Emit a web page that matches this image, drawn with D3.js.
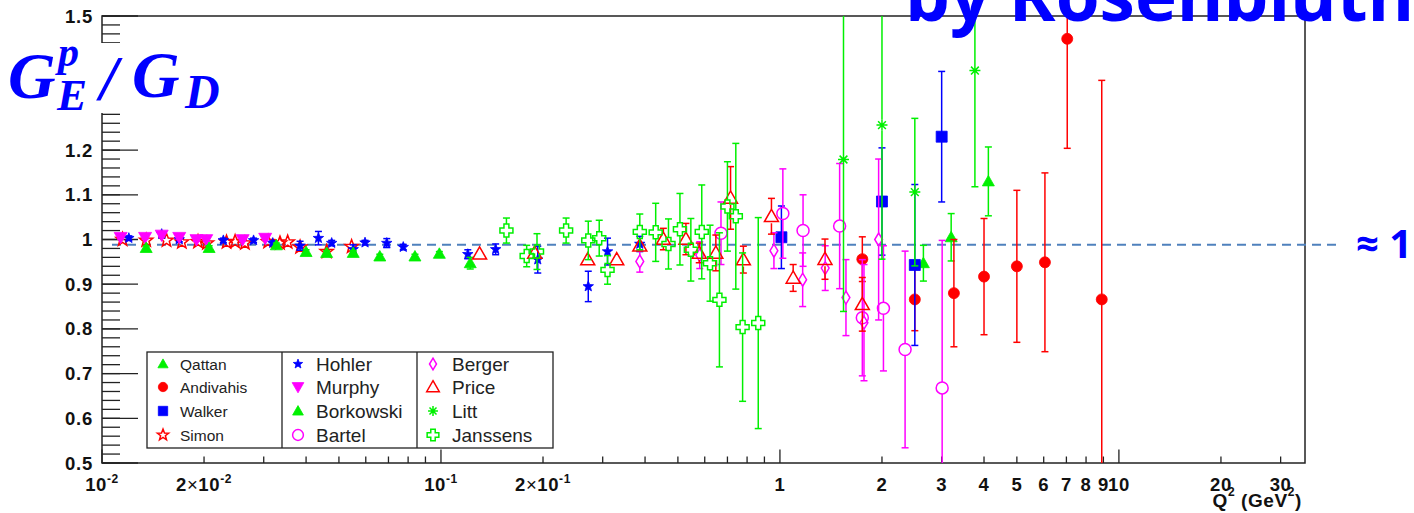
<!DOCTYPE html>
<html>
<head>
<meta charset="utf-8">
<script src="https://cdn.jsdelivr.net/npm/d3@7"></script>
<style>
  body { margin: 0; background: #fff; }
  svg { display: block; }
</style>
</head>
<body>
<div id="chart"></div>
<script>
/////////////
// Data    //
/////////////

// each point: [Q2 (GeV^2), GEp/GD, error]
var qattan = [[2.65,0.947,0.04],[3.2,1.005,0.053],[4.12,1.13,0.077]];
var andivahis = [[1.75,0.956,0.05],[2.5,0.866,0.07],[3.26,0.88,0.12],[4.0,0.917,0.13],[5.0,0.94,0.17],[6.05,0.949,0.2],[7.04,1.449,0.245],[8.9,0.866,0.49]];
var walker = [[1.01,1.005,0.07],[2.0,1.085,0.12],[2.5,0.943,0.18],[3.0,1.23,0.146]];
var simon = [[0.0115,1.0,0.005],[0.0135,0.998,0.005],[0.0155,0.998,0.005],[0.0172,0.994,0.005],[0.0192,0.995,0.005],[0.0204,0.992,0.005],[0.0233,0.994,0.005],[0.0247,0.995,0.005],[0.0264,0.992,0.005],[0.0309,0.995,0.005],[0.0335,0.992,0.005],[0.0353,0.994,0.005],[0.0384,0.983,0.006],[0.046,0.973,0.006],[0.0545,0.984,0.006]];
var hohler = [[0.012,1.003,0.005],[0.015,1.012,0.005],[0.0169,1.0,0.005],[0.0228,0.998,0.005],[0.028,0.998,0.005],[0.0319,0.992,0.005],[0.0384,0.986,0.01],[0.0435,1.003,0.015],[0.0476,0.992,0.006],[0.0551,0.978,0.01],[0.0597,0.993,0.005],[0.0692,0.992,0.01],[0.0774,0.983,0.006],[0.12,0.967,0.01],[0.145,0.978,0.012],[0.193,0.955,0.03],[0.272,0.895,0.034],[0.31,0.973,0.03],[0.386,0.99,0.017]];
var murphy = [[0.01135,1.005,0.004],[0.0134,1.005,0.004],[0.015,1.01,0.004],[0.0169,1.005,0.004],[0.019,1.0,0.004],[0.0203,1.0,0.004],[0.026,1.0,0.004],[0.0303,1.003,0.004]];
var borkowski = [[0.0135,0.981,0.005],[0.0207,0.981,0.005],[0.0327,0.987,0.005],[0.04,0.972,0.005],[0.046,0.97,0.005],[0.0551,0.97,0.005],[0.066,0.962,0.005],[0.0838,0.962,0.005],[0.0989,0.968,0.005],[0.122,0.947,0.013]];
var bartel = [[0.67,1.014,0.07],[1.02,1.058,0.1],[1.17,1.02,0.08],[1.5,1.03,0.14],[1.75,0.825,0.13],[2.02,0.846,0.14],[2.34,0.754,0.22],[3.01,0.668,0.33]];
var berger = [[0.386,0.951,0.024],[0.58,0.965,0.03],[0.96,0.975,0.04],[1.167,0.91,0.06],[1.36,0.936,0.05],[1.566,0.87,0.085],[1.77,0.814,0.13],[1.955,1.0,0.18]];
var price = [[0.13,0.968,0.006],[0.189,0.97,0.01],[0.271,0.955,0.012],[0.33,0.955,0.01],[0.386,0.986,0.017],[0.453,1.001,0.024],[0.528,1.001,0.035],[0.578,0.97,0.022],[0.647,0.97,0.04],[0.715,1.093,0.07],[0.78,0.955,0.03],[0.944,1.052,0.04],[1.094,0.914,0.03],[1.358,0.956,0.045],[1.75,0.855,0.06]];
var litt = [[1.54,1.179,0.34],[2.0,1.256,0.3],[2.5,1.106,0.165],[3.76,1.378,0.26]];
var janssens = [[0.156,1.02,0.028],[0.179,0.963,0.024],[0.192,0.973,0.04],[0.234,1.02,0.028],[0.272,0.998,0.043],[0.293,1.003,0.04],[0.31,0.932,0.032],[0.386,1.017,0.04],[0.43,1.016,0.065],[0.469,0.99,0.056],[0.507,1.023,0.08],[0.546,0.977,0.07],[0.588,1.017,0.105],[0.622,0.947,0.085],[0.663,0.865,0.15],[0.70,1.074,0.1],[0.741,1.052,0.163],[0.776,0.804,0.166],[0.863,0.813,0.236]];

// axis ticks and labels
var xLabelValues = [0.01,0.02,0.1,0.2,1,2,3,4,5,6,7,8,9,10,20,30];
var yMajor = [0.5,0.6,0.7,0.8,0.9,1.0,1.1,1.2,1.3,1.4,1.5];
var refLine = 0.988;

///////////////
// Setup     //
///////////////

var width = 1414, height = 513;
var GREEN = "#00f000", RED = "#ff0000", BLUE = "#0000ff", MAG = "#ff00ff";

var series = [
	{name:"Qattan",    data:qattan,    color:GREEN, shape:"triUp",   fill:true,  r:6},
	{name:"Andivahis", data:andivahis, color:RED,   shape:"circle",  fill:true,  r:5.5},
	{name:"Walker",    data:walker,    color:BLUE,  shape:"square",  fill:true,  r:5.5},
	{name:"Simon",     data:simon,     color:RED,   shape:"star",    fill:false, r:7},
	{name:"Hohler",    data:hohler,    color:BLUE,  shape:"star",    fill:true,  r:5.5},
	{name:"Murphy",    data:murphy,    color:MAG,   shape:"triDown", fill:true,  r:6.5},
	{name:"Borkowski", data:borkowski, color:GREEN, shape:"triUp",   fill:true,  r:6},
	{name:"Bartel",    data:bartel,    color:MAG,   shape:"circle",  fill:false, r:6},
	{name:"Berger",    data:berger,    color:MAG,   shape:"diamond", fill:false, r:6.5},
	{name:"Price",     data:price,     color:RED,   shape:"triUp",   fill:false, r:7},
	{name:"Litt",      data:litt,      color:GREEN, shape:"aster",   fill:false, r:5.5},
	{name:"Janssens",  data:janssens,  color:GREEN, shape:"cross",   fill:false, r:6.5}
];

var svg = d3.select("#chart").append("svg")
	.attr("width", width).attr("height", height);

var x = d3.scaleLog().domain([0.01, 35.4]).range([102, 1305]);
var y = d3.scaleLinear().domain([0.5, 1.5]).range([463, 16]);

var L = 102, R = 1305, T = 16, B = 463;

// marker path
function markerPath(shape, r){
	var p = d3.path();
	if (shape == "triUp"){
		p.moveTo(0,-r); p.lineTo(r,r*0.75); p.lineTo(-r,r*0.75); p.closePath();
	} else if (shape == "triDown"){
		p.moveTo(0,r); p.lineTo(r,-r*0.75); p.lineTo(-r,-r*0.75); p.closePath();
	} else if (shape == "square"){
		p.rect(-r,-r,2*r,2*r);
	} else if (shape == "circle"){
		p.arc(0,0,r,0,2*Math.PI); p.closePath();
	} else if (shape == "diamond"){
		p.moveTo(0,-r); p.lineTo(r*0.6,0); p.lineTo(0,r); p.lineTo(-r*0.6,0); p.closePath();
	} else if (shape == "star"){
		for (var i=0;i<10;i++){
			var a = -Math.PI/2 + i*Math.PI/5, rr = (i%2==0) ? r : r*0.42;
			if (i==0) p.moveTo(rr*Math.cos(a), rr*Math.sin(a)); else p.lineTo(rr*Math.cos(a), rr*Math.sin(a));
		}
		p.closePath();
	} else if (shape == "cross"){
		var w = r*0.38;
		p.moveTo(-w,-r); p.lineTo(w,-r); p.lineTo(w,-w); p.lineTo(r,-w); p.lineTo(r,w); p.lineTo(w,w);
		p.lineTo(w,r); p.lineTo(-w,r); p.lineTo(-w,w); p.lineTo(-r,w); p.lineTo(-r,-w); p.lineTo(-w,-w); p.closePath();
	} else if (shape == "aster"){
		for (var k=0;k<4;k++){
			var b = k*Math.PI/4;
			p.moveTo(-r*Math.cos(b), -r*Math.sin(b)); p.lineTo(r*Math.cos(b), r*Math.sin(b));
		}
	}
	return p.toString();
}

function drawMarker(g, s, r){
	g.append("path")
		.attr("d", markerPath(s.shape, r))
		.attr("fill", s.fill ? s.color : "none")
		.attr("stroke", s.color)
		.attr("stroke-width", s.fill ? 0.8 : 1.5)
		.attr("stroke-linejoin", "miter");
}

////////////////
// Axes/frame //
////////////////

svg.append("clipPath").attr("id","plotclip")
	.append("rect").attr("x",L).attr("y",T).attr("width",R-L).attr("height",B-T);

// y ticks
var yMinor = d3.range(0.5, 1.5001, 0.02);
svg.append("g").selectAll("line").data(yMinor).enter().append("line")
	.attr("x1", L).attr("x2", L+18)
	.attr("y1", function(d){ return y(d); }).attr("y2", function(d){ return y(d); })
	.attr("stroke","#222").attr("stroke-width",1.3);
svg.append("g").selectAll("line").data(yMajor).enter().append("line")
	.attr("x1", L).attr("x2", L+36)
	.attr("y1", function(d){ return y(d); }).attr("y2", function(d){ return y(d); })
	.attr("stroke","#222").attr("stroke-width",1.3);
svg.append("g").selectAll("text").data(yMajor).enter().append("text")
	.text(function(d){ return d3.format("~g")(d); })
	.attr("x", 93).attr("y", function(d){ return y(d)+6.5; })
	.attr("text-anchor","end")
	.attr("font-family","Liberation Sans, Arial, sans-serif")
	.attr("font-weight","bold").attr("font-size","18.5px").attr("letter-spacing","0.8px")
	.attr("fill","#111");

// x ticks
var xMinor = [], xMajorT = [];
[0.01,0.1,1,10].forEach(function(dec){
	xMajorT.push(dec);
	for (var m=2;m<=9;m++){ if (dec*m <= 35.4) xMinor.push(dec*m); }
});
svg.append("g").selectAll("line").data(xMinor).enter().append("line")
	.attr("x1", function(d){ return x(d); }).attr("x2", function(d){ return x(d); })
	.attr("y1", B).attr("y2", B-6.5)
	.attr("stroke","#222").attr("stroke-width",1.3);
svg.append("g").selectAll("line").data(xMajorT).enter().append("line")
	.attr("x1", function(d){ return x(d); }).attr("x2", function(d){ return x(d); })
	.attr("y1", B).attr("y2", B-13.5)
	.attr("stroke","#222").attr("stroke-width",1.3);

var xl = svg.append("g")
	.attr("font-family","Liberation Sans, Arial, sans-serif")
	.attr("font-weight","bold").attr("fill","#111");
xLabelValues.forEach(function(v){
	var t = xl.append("text").attr("x", x(v)).attr("y", 491)
		.attr("text-anchor","middle").attr("font-size","18.5px").attr("letter-spacing","0.6px");
	var e = Math.floor(Math.log10(v) + 1e-9);
	var m = Math.round(v / Math.pow(10,e));
	if (e < 0){
		if (m != 1){ t.append("tspan").text(m); t.append("tspan").attr("font-weight","normal").text("\u00d7"); }
		t.append("tspan").text("10");
		t.append("tspan").attr("font-size","12px").attr("dy",-8).text(e);
	} else {
		t.text(d3.format("~g")(v));
	}
});

// axis title Q^2 (GeV^2)
var xt = svg.append("text").attr("x", 1302).attr("y", 507).attr("text-anchor","end")
	.attr("font-family","Liberation Sans, Arial, sans-serif")
	.attr("font-weight","bold").attr("font-size","19px").attr("letter-spacing","0.6px").attr("fill","#111");
xt.append("tspan").text("Q");
xt.append("tspan").attr("font-size","12px").attr("dy",-11).text("2");
xt.append("tspan").attr("dy",11).text(" (GeV");
xt.append("tspan").attr("font-size","12px").attr("dy",-11).text("2");
xt.append("tspan").attr("dy",11).text(")");

// frame
svg.append("rect").attr("x",L).attr("y",T).attr("width",R-L).attr("height",B-T)
	.attr("fill","none").attr("stroke","#222").attr("stroke-width",1.5);

// reference line
svg.append("line")
	.attr("x1", 112).attr("x2", 1338)
	.attr("y1", y(refLine)).attr("y2", y(refLine))
	.attr("stroke","#4f81bd").attr("stroke-width",2).attr("stroke-dasharray","9,6");

////////////
// Points //
////////////

var plot = svg.append("g").attr("clip-path","url(#plotclip)");

series.forEach(function(s){
	s.data.forEach(function(d){
		var cx = x(d[0]), cy = y(d[1]);
		var up = y(d[1]+d[2]), dn = y(d[1]-d[2]);
		var g = plot.append("g").attr("transform","translate("+cx+","+cy+")");
		var gap = s.fill ? 0 : s.r;
		if (cy - up > gap + 1){
			g.append("line").attr("x1",0).attr("x2",0).attr("y1",up-cy).attr("y2",-gap)
				.attr("stroke",s.color).attr("stroke-width",1.5);
			g.append("line").attr("x1",0).attr("x2",0).attr("y1",gap).attr("y2",dn-cy)
				.attr("stroke",s.color).attr("stroke-width",1.5);
			g.append("line").attr("x1",-3.5).attr("x2",3.5).attr("y1",up-cy).attr("y2",up-cy)
				.attr("stroke",s.color).attr("stroke-width",1.5);
			g.append("line").attr("x1",-3.5).attr("x2",3.5).attr("y1",dn-cy).attr("y2",dn-cy)
				.attr("stroke",s.color).attr("stroke-width",1.5);
		}
		drawMarker(g, s, s.r);
	});
});

////////////
// Legend //
////////////

var lg = svg.append("g");
lg.append("rect").attr("x",147).attr("y",352).attr("width",406).attr("height",96)
	.attr("fill","#fff").attr("stroke","#222").attr("stroke-width",1.3);
[282,417].forEach(function(xx){
	lg.append("line").attr("x1",xx).attr("x2",xx).attr("y1",352).attr("y2",448)
		.attr("stroke","#222").attr("stroke-width",1.3);
});
var colMarkX = [163,298,433], colTextX = [180,316,452], colFont = [15.5,19,19];
var rowY = [364,387,411,435];
series.forEach(function(s,i){
	var c = Math.floor(i/4), r = i%4;
	var g = lg.append("g").attr("transform","translate("+colMarkX[c]+","+rowY[r]+")");
	drawMarker(g, s, c==0 ? s.r*0.85 : s.r*0.9);
	lg.append("text").text(s.name)
		.attr("x", colTextX[c]).attr("y", rowY[r] + colFont[c]*0.36)
		.attr("font-family","Liberation Sans, Arial, sans-serif")
		.attr("font-size", colFont[c]+"px").attr("fill","#222");
});

/////////////////////
// Titles / labels //
/////////////////////

// y title with white backing over the axis
svg.append("rect").attr("x",0).attr("y",43).attr("width",240).attr("height",70).attr("fill","#fff");
var yt = svg.append("text")
	.attr("font-family","Liberation Serif, Times New Roman, serif")
	.attr("font-style","italic").attr("font-weight","bold").attr("fill",BLUE);
yt.append("tspan").attr("x",8).attr("y",98).attr("font-size","66px").text("G");
yt.append("tspan").attr("x",58).attr("y",66).attr("font-size","42px").text("p");
yt.append("tspan").attr("x",57).attr("y",110).attr("font-size","45px").text("E");
yt.append("tspan").attr("x",100).attr("y",100).attr("font-size","64px").text("/");
yt.append("tspan").attr("x",132).attr("y",97).attr("font-size","66px").text("G");
yt.append("tspan").attr("x",185).attr("y",108).attr("font-size","48px").text("D");

svg.append("text").text("by Rosenbluth")
	.attr("x", 905).attr("y", 21)
	.attr("font-family","Open Sans, Lato, sans-serif").attr("font-weight","bold")
	.attr("font-size","71px").attr("fill",BLUE);

svg.append("text").text("\u2248 1")
	.attr("x", 1356).attr("y", 258)
	.attr("font-family","Open Sans, Lato, sans-serif").attr("font-weight","bold")
	.attr("font-size","40px").attr("fill",BLUE);
</script>
</body>
</html>
